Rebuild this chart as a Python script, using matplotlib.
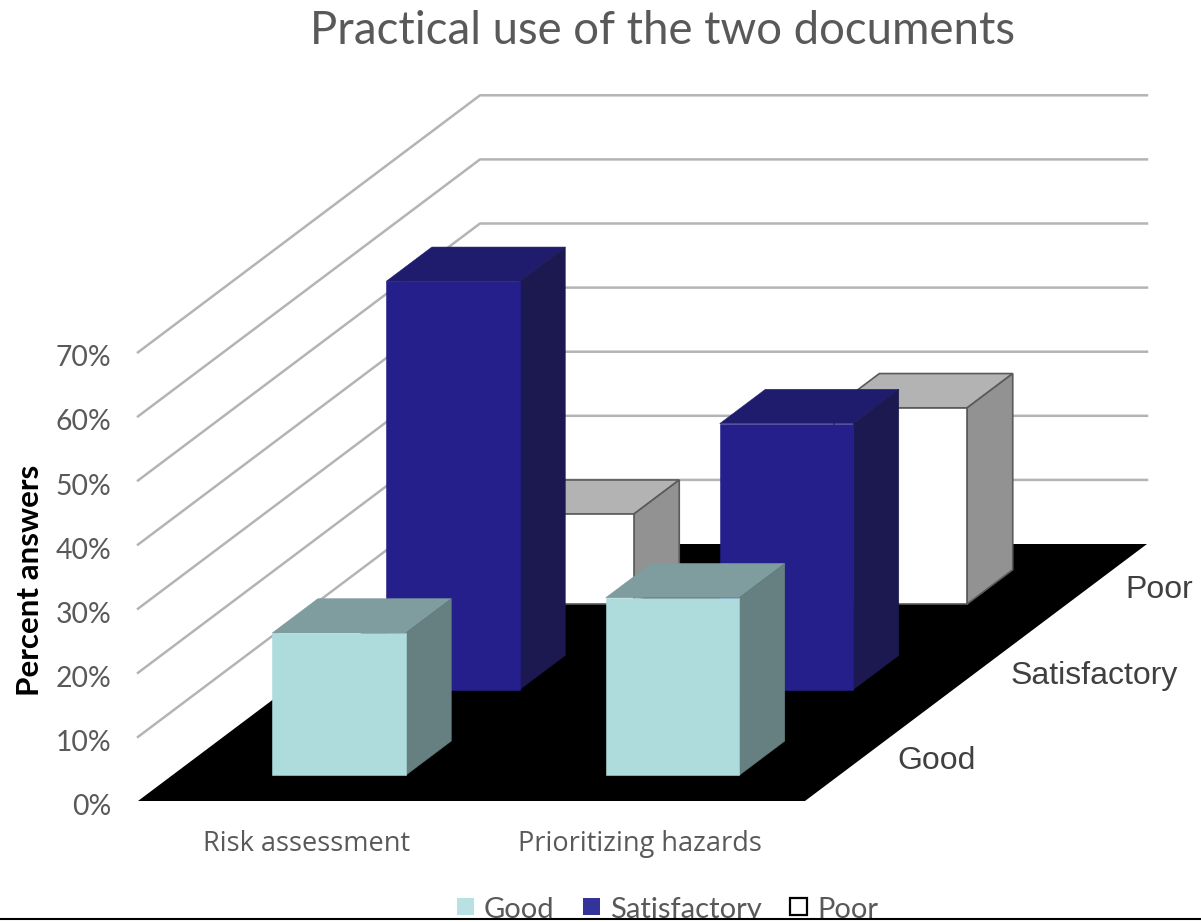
"""Oblique 3D column chart: practical use of the two documents."""
import matplotlib
matplotlib.use("Agg")
import matplotlib.pyplot as plt
from matplotlib.patches import Polygon, Rectangle

categories = ["Risk assessment", "Prioritizing hazards"]
series = ["Good", "Satisfactory", "Poor"]
good = [22.2, 27.7]
satisfactory = [63.7, 41.5]
poor = [14, 30.6]
y_ticks = [0, 10, 20, 30, 40, 50, 60, 70]

# face colours per series: front, top, side
STYLES = {
    "Good": ("#aedbdc", "#7f9c9e", "#667f80", "none"),
    "Satisfactory": ("#241f8a", "#1f1c6e", "#1b1950", "none"),
    "Poor": ("#ffffff", "#b3b3b3", "#929292", "#5a5a5a"),
}
GRID = "#b4b4b4"
TEXT = "#595959"

# projection: floor origin in pixels, per-unit vectors
X0, Y0 = 138, 801
CAT_W = 333.5
DEPTH_DX, DEPTH_DY = 342, -257
PCT_H = 6.41
GAP, BAR_W = 0.30, 0.40
D_GAP, D_BAR = 0.30, 0.40


def proj(x, d, pct):
    # x in category units, d in series units (0..3), pct in percent
    return (X0 + x * CAT_W + d / 3 * DEPTH_DX,
            Y0 + d / 3 * DEPTH_DY - pct * PCT_H)


def draw_bar(ax, cat, row, value, name):
    front, top, side, edge = STYLES[name]
    x0, x1 = cat + GAP, cat + GAP + BAR_W
    d0, d1 = row + D_GAP, row + D_GAP + D_BAR
    faces = [
        ([(x0, d0, value), (x1, d0, value), (x1, d1, value), (x0, d1, value)], top),
        ([(x1, d0, 0), (x1, d1, 0), (x1, d1, value), (x1, d0, value)], side),
        ([(x0, d0, 0), (x1, d0, 0), (x1, d0, value), (x0, d0, value)], front),
    ]
    for pts, col in faces:
        ax.add_patch(Polygon([proj(*p) for p in pts], closed=True, facecolor=col,
                             edgecolor=edge if edge != "none" else col,
                             linewidth=1.2 if edge != "none" else 0.4,
                             joinstyle="miter", zorder=3))


def main():
    fig = plt.figure(figsize=(12.01, 9.22), dpi=100)
    ax = fig.add_axes([0, 0, 1, 1])
    ax.set_xlim(0, 1201)
    ax.set_ylim(922, 0)
    ax.axis("off")

    n_cat, n_ser = len(categories), len(series)

    # wall gridlines
    for pct in y_ticks:
        a, b, c = proj(0, 0, pct), proj(0, n_ser, pct), proj(n_cat, n_ser, pct)
        if pct > 0:
            ax.plot([a[0], b[0], c[0]], [a[1], b[1], c[1]], color=GRID, lw=1.8,
                    solid_joinstyle="miter", zorder=1)
        ax.text(a[0] - 27, a[1] + 6, f"{pct}%", fontsize=20.4, family="Lato",
                color=TEXT, ha="right", va="center")

    # floor
    floor = [proj(0, 0, 0), proj(n_cat, 0, 0), proj(n_cat, n_ser, 0), proj(0, n_ser, 0)]
    ax.add_patch(Polygon(floor, closed=True, facecolor="black", edgecolor="none", zorder=2))

    # bars back to front
    values = [good, satisfactory, poor]
    for row in reversed(range(n_ser)):
        for cat in range(n_cat):
            draw_bar(ax, cat, row, values[row][cat], series[row])

    for i, label in enumerate(categories):
        ax.text(X0 + (i + 0.5) * CAT_W + 2, 844, label, fontsize=19.5, family="Open Sans",
                color=TEXT, ha="center", va="center")

    for row, label in enumerate(series):
        px, py = proj(n_cat, row + 0.5, 0)
        ax.text(px + 35, py + 3, label, fontsize=23, family="Liberation Sans",
                color="#404040", ha="left", va="center")

    ax.text(662, 31, "Practical use of the two documents", fontsize=32.8, family="Lato",
            color=TEXT, ha="center", va="center")
    ax.text(30, 580, "Percent answers", fontsize=22.6, family="Lato", fontweight="bold",
            color="black", rotation=90, ha="center", va="center")

    # legend, cut off by the bottom rule as in the source image
    legend_x = [457, 583, 790]
    edges = ["none", "none", "black"]
    legend_cols = ["#b9e0e2", "#333399", "#ffffff"]
    for x, name, col, ec in zip(legend_x, series, legend_cols, edges):
        ax.add_patch(Rectangle((x, 898), 17, 17, facecolor=col, edgecolor=ec, lw=1.6, zorder=4))
        ax.text(x + 27, 910, name, fontsize=21, family="Lato", color=TEXT,
                ha="left", va="center", zorder=4)
    ax.add_patch(Rectangle((0, 919), 1201, 3, facecolor="white", edgecolor="none", zorder=5))
    ax.plot([0, 1201], [919, 919], color="black", lw=1.5, zorder=6)

    fig.savefig("out.png", dpi=100)


if __name__ == "__main__":
    main()
